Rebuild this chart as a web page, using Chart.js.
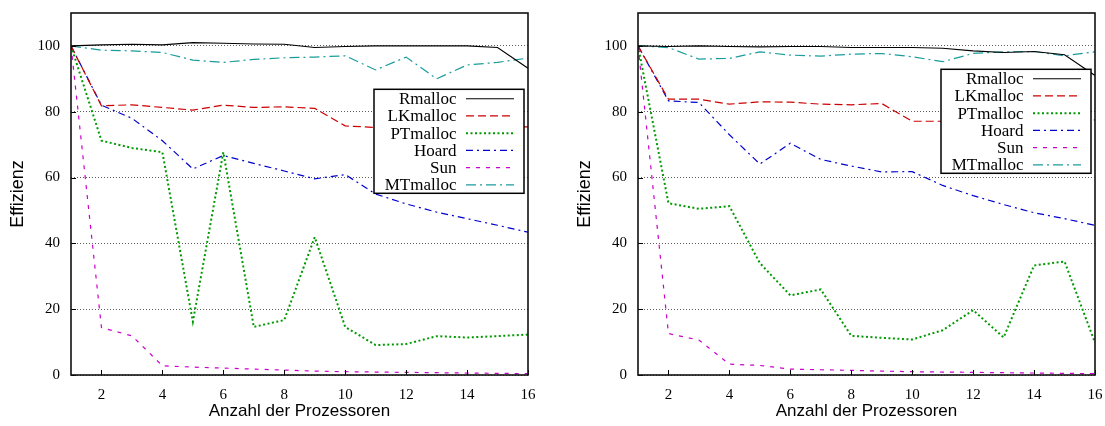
<!DOCTYPE html>
<html>
<head>
<meta charset="utf-8">
<script src="https://cdn.jsdelivr.net/npm/chart.js@4.4.1/dist/chart.umd.min.js"></script>
<style>
  html, body { margin: 0; padding: 0; background: #fff; overflow: hidden; }
  .holder { position: absolute; top: 0; }
</style>
</head>
<body>
<div class="holder" style="left:0"><canvas id="chartA" width="552" height="426"></canvas></div>
<div class="holder" style="left:567px"><canvas id="chartB" width="538" height="426"></canvas></div>
<script>
// x values and ticks
const procs = [1, 2, 3, 4, 5, 6, 7, 8, 9, 10, 11, 12, 13, 14, 15, 16];
const xTicks = [2, 4, 6, 8, 10, 12, 14, 16];
const yTicks = [0, 20, 40, 60, 80, 100];
const names = ['Rmalloc', 'LKmalloc', 'PTmalloc', 'Hoard', 'Sun', 'MTmalloc'];

// left chart
const rmallocA  = [100, 100.3, 100.5, 100.3, 101, 100.8, 100.6, 100.5, 99.5, 99.8, 100, 100, 100, 100, 99.5, 93.2];
const lkmallocA = [100, 81.8, 82.1, 81.3, 80.5, 82, 81.3, 81.5, 81, 75.7, 75.2, 75.8, 75.5, 75.6, 75.5, 75.4];
const ptmallocA = [100, 71.2, 69, 67.7, 16.2, 67.7, 14.6, 16.7, 41.9, 14.6, 9.1, 9.4, 11.8, 11.4, 11.8, 12.3];
const hoardA    = [100, 82, 78, 71.2, 62.6, 66.7, 64.3, 62, 59.6, 60.9, 55, 52, 49.5, 47.5, 45.5, 43.4];
const sunA      = [100, 14.4, 11.9, 2.8, 2.4, 2.1, 1.8, 1.5, 1.2, 1, 0.9, 0.8, 0.7, 0.6, 0.5, 0.4];
const mtmallocA = [100, 98.7, 98.5, 98, 95.7, 95, 95.9, 96.4, 96.6, 97, 92.7, 96.6, 90, 94.2, 95, 96.3];

// right chart
const rmallocB  = [100, 99.8, 100, 99.8, 99.7, 99.8, 99.8, 99.5, 99.5, 99.5, 99.3, 98.5, 98, 98.3, 97.3, 91];
const lkmallocB = [100, 83.8, 83.8, 82.3, 83, 82.9, 82.3, 82.1, 82.5, 77.1, 77.1, 77.1, 77.2, 77.2, 77.2, 77.5];
const ptmallocB = [100, 52.2, 50.5, 51.3, 34, 24.2, 26, 11.9, 11.3, 10.8, 13.6, 19.7, 11.4, 33.3, 34.5, 9.8];
const hoardB    = [100, 83.3, 82.8, 73, 64.1, 70.4, 65.5, 63.5, 61.7, 61.8, 57.6, 54.5, 51.8, 49.3, 47.5, 45.5];
const sunB      = [100, 12.6, 10.6, 3.3, 2.9, 1.8, 1.6, 1.4, 1.2, 1, 0.9, 0.8, 0.7, 0.6, 0.5, 0.4];
const mtmallocB = [100, 99.5, 96, 96.2, 98.2, 97.2, 96.9, 97.5, 97.7, 96.7, 95.2, 97.7, 98.2, 98.3, 97, 98.2];

const styles = [
  { color: '#000000', dash: [],           width: 1.1 },
  { color: '#cc0000', dash: [8, 4],       width: 1.2 },
  { color: '#009a00', dash: [2, 2.5],     width: 2 },
  { color: '#0000cc', dash: [7, 4, 2, 4], width: 1.2 },
  { color: '#cc00cc', dash: [4, 6],       width: 1.2 },
  { color: '#1a9c9c', dash: [10, 4, 2, 4], width: 1.2 }
];

const serif = '"Liberation Serif", "Times New Roman", serif';
const sans = '"Liberation Sans", Arial, sans-serif';

// frame, inward ticks and gnuplot style key
const framePlugin = {
  id: 'frame',
  afterDatasetsDraw(chart, args, opts) {
    const { ctx, chartArea: a, scales } = chart;
    ctx.save();
    ctx.strokeStyle = '#000';
    ctx.lineWidth = 1;
    ctx.setLineDash([]);
    xTicks.forEach(v => {
      const px = Math.round(scales.x.getPixelForValue(v)) + 0.5;
      ctx.beginPath(); ctx.moveTo(px, a.bottom); ctx.lineTo(px, a.bottom - 5); ctx.stroke();
    });
    yTicks.forEach(v => {
      const py = Math.round(scales.y.getPixelForValue(v)) + 0.5;
      ctx.beginPath(); ctx.moveTo(a.left, py); ctx.lineTo(a.left + 5, py); ctx.stroke();
    });

    // key
    const bx = a.right - 154, bw = 150, by = opts.top, bh = 104;
    ctx.fillStyle = '#fff';
    ctx.fillRect(bx, by, bw, bh);
    ctx.lineWidth = 1.5;
    ctx.strokeRect(bx, by, bw, bh);
    ctx.font = '17px ' + serif;
    ctx.textAlign = 'right';
    ctx.textBaseline = 'middle';
    chart.data.datasets.forEach((ds, i) => {
      const ry = by + 9.4 + i * 17.25;
      ctx.fillStyle = '#000';
      ctx.fillText(ds.label, bx + 82.5, ry + 1);
      ctx.strokeStyle = ds.borderColor;
      ctx.lineWidth = ds.borderWidth;
      ctx.setLineDash(ds.borderDash);
      ctx.beginPath(); ctx.moveTo(bx + 92, ry); ctx.lineTo(bx + 140, ry); ctx.stroke();
    });
    ctx.setLineDash([]);

    ctx.strokeStyle = '#111';
    ctx.lineWidth = 1.6;
    ctx.strokeRect(a.left, a.top, a.right - a.left, a.bottom - a.top);
    ctx.restore();
  }
};

function makeChart(id, series, padRight, keyTop) {
  const datasets = series.map((vals, i) => ({
    label: names[i],
    data: procs.map((p, j) => ({ x: p, y: vals[j] })),
    borderColor: styles[i].color,
    borderDash: styles[i].dash,
    borderWidth: styles[i].width,
    pointRadius: 0,
    fill: false,
    tension: 0
  }));
  return new Chart(document.getElementById(id).getContext('2d'), {
    type: 'line',
    data: { datasets: datasets },
    plugins: [framePlugin],
    options: {
      responsive: false,
      animation: false,
      layout: { padding: { top: 13, right: padRight, left: 0, bottom: 0 } },
      plugins: {
        legend: { display: false },
        tooltip: { enabled: false },
        frame: { top: keyTop }
      },
      scales: {
        x: {
          type: 'linear',
          min: 1, max: 16,
          afterBuildTicks: s => { s.ticks = xTicks.map(v => ({ value: v })); },
          afterFit: s => { s.height = 51; s.paddingLeft = 0; s.paddingRight = 0; },
          grid: { display: false, drawTicks: false },
          border: { display: false },
          ticks: { padding: 11, color: '#000', font: { family: serif, size: 15 }, maxRotation: 0 },
          title: { display: true, text: 'Anzahl der Prozessoren', color: '#000',
                   font: { family: sans, size: 17 }, padding: { top: 0, bottom: 4 } }
        },
        y: {
          min: 0, max: 110,
          afterBuildTicks: s => { s.ticks = yTicks.map(v => ({ value: v })); },
          afterFit: s => { s.width = 71; s.paddingTop = 0; s.paddingBottom = 0; },
          grid: { color: '#333', lineWidth: 0.8, drawTicks: false },
          border: { display: false, dash: [1, 2] },
          ticks: { padding: 11, color: '#000', font: { family: serif, size: 15 } },
          title: { display: true, text: 'Effizienz', color: '#000',
                   font: { family: sans, size: 18 }, padding: { top: 7, bottom: 0 } }
        }
      }
    }
  });
}

makeChart('chartA', [rmallocA, lkmallocA, ptmallocA, hoardA, sunA, mtmallocA], 24, 89.3);
makeChart('chartB', [rmallocB, lkmallocB, ptmallocB, hoardB, sunB, mtmallocB], 10, 69.3);
</script>
</body>
</html>
